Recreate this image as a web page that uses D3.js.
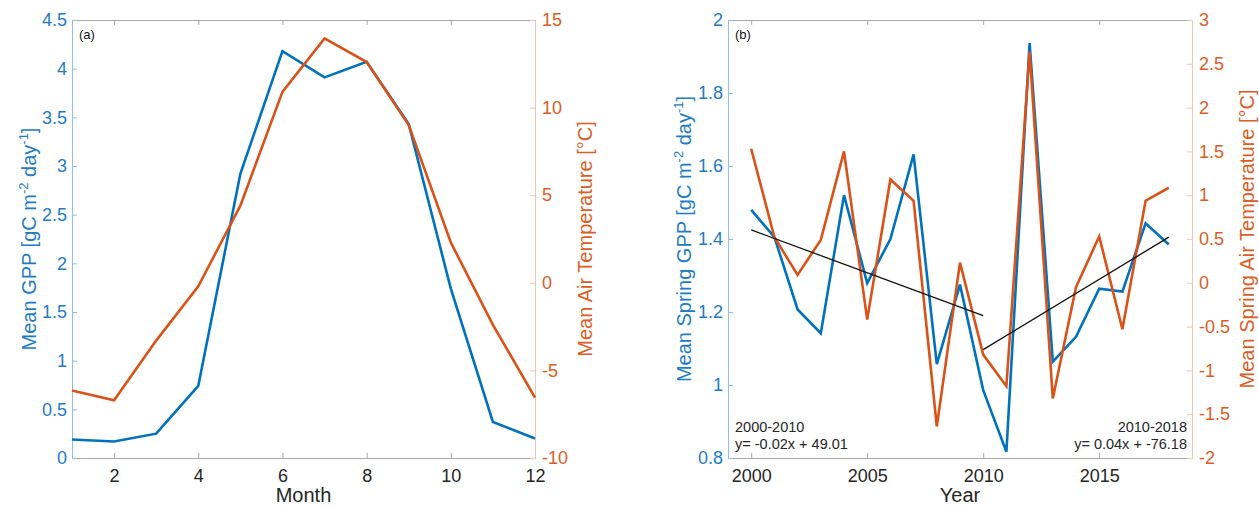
<!DOCTYPE html>
<html>
<head>
<meta charset="utf-8">
<script src="https://cdn.jsdelivr.net/npm/d3@7"></script>
<style>
  body { margin: 0; background: #fff; }
  text { font-family: "Liberation Sans", Arial, Helvetica, sans-serif; }
</style>
</head>
<body>
<div id="canvas"></div>
<script>
// panel (a): monthly means
const months = [1, 2, 3, 4, 5, 6, 7, 8, 9, 10, 11, 12];
const gppMonthly = [0.19, 0.17, 0.25, 0.74, 2.92, 4.18, 3.91, 4.07, 3.43, 1.74, 0.37, 0.20];
const tempMonthly = [-6.15, -6.7, -3.3, -0.2, 4.4, 10.9, 13.95, 12.6, 9.0, 2.3, -2.4, -6.55];

// panel (b): spring means by year
const years = [2000, 2001, 2002, 2003, 2004, 2005, 2006, 2007, 2008, 2009,
               2010, 2011, 2012, 2013, 2014, 2015, 2016, 2017, 2018];
const gppSpring = [1.48, 1.405, 1.207, 1.142, 1.52, 1.279, 1.40, 1.632, 1.057, 1.275,
                   0.986, 0.817, 1.937, 1.064, 1.132, 1.264, 1.256, 1.443, 1.385];
const tempSpring = [1.53, 0.52, 0.09, 0.49, 1.50, -0.42, 1.18, 0.935, -1.64, 0.23,
                    -0.82, -1.18, 2.64, -1.32, -0.05, 0.53, -0.53, 0.937, 1.085];

// trend lines (endpoints, left axis units)
const trend1 = [[2000, 1.425], [2010, 1.19]];
const trend2 = [[2010, 1.097], [2018, 1.405]];
const trendText1 = ["2000-2010", "y= -0.02x + 49.01"];
const trendText2 = ["2010-2018", "y= 0.04x + -76.18"];

// ticks
const monthTicks = [2, 4, 6, 8, 10, 12];
const gppTicksA = [0, 0.5, 1, 1.5, 2, 2.5, 3, 3.5, 4, 4.5];
const tempTicksA = [-10, -5, 0, 5, 10, 15];
const yearTicks = [2000, 2005, 2010, 2015];
const gppTicksB = [0.8, 1, 1.2, 1.4, 1.6, 1.8, 2];
const tempTicksB = [-2, -1.5, -1, -0.5, 0, 0.5, 1, 1.5, 2, 2.5, 3];

const blue = "#0072BD";
const orange = "#D95319";
const blueText = "#1f7cc3";
const orangeText = "#d85e27";

const svg = d3.select("#canvas").append("svg")
    .attr("width", 1259)
    .attr("height", 508);

function drawPanel(p) {
    const x = d3.scaleLinear().domain(p.xDomain).range([p.left, p.right]);
    const yL = d3.scaleLinear().domain(p.yLDomain).range([p.bottom, p.top]);
    const yR = d3.scaleLinear().domain(p.yRDomain).range([p.bottom, p.top]);

    const g = svg.append("g");

    // axes (ticks point inward)
    const bottomAxis = g.append("g")
        .attr("transform", `translate(0,${p.bottom})`)
        .call(d3.axisBottom(x).tickValues(p.xTicks).tickSize(-5).tickSizeOuter(0).tickPadding(11)
            .tickFormat(d => String(d)));
    const topAxis = g.append("g")
        .attr("transform", `translate(0,${p.top})`)
        .call(d3.axisTop(x).tickValues(p.xTicks).tickSize(-5).tickSizeOuter(0).tickFormat(""));
    [bottomAxis, topAxis].forEach(a => {
        a.select(".domain").attr("stroke", "#a8a8a8");
        a.selectAll(".tick line").attr("stroke", "#a8a8a8");
        a.selectAll("text").attr("fill", "#262626").attr("font-size", 18)
            .attr("font-family", "Liberation Sans, Arial, sans-serif");
    });

    const leftAxis = g.append("g")
        .attr("transform", `translate(${p.left},0)`)
        .call(d3.axisLeft(yL).tickValues(p.yLTicks).tickSize(-5).tickSizeOuter(0).tickPadding(5)
            .tickFormat(d => String(d)));
    leftAxis.select(".domain").attr("stroke", "#8fbfe4");
    leftAxis.selectAll(".tick line").attr("stroke", "#8fbfe4");
    leftAxis.selectAll("text").attr("fill", blueText).attr("font-size", 18)
        .attr("font-family", "Liberation Sans, Arial, sans-serif");

    const rightAxis = g.append("g")
        .attr("transform", `translate(${p.right},0)`)
        .call(d3.axisRight(yR).tickValues(p.yRTicks).tickSize(-5).tickSizeOuter(0).tickPadding(7)
            .tickFormat(d => String(d)));
    rightAxis.select(".domain").attr("stroke", "#ebc7b6");
    rightAxis.selectAll(".tick line").attr("stroke", "#ebc7b6");
    rightAxis.selectAll("text").attr("fill", orangeText).attr("font-size", 18)
        .attr("font-family", "Liberation Sans, Arial, sans-serif");

    // data lines
    const lineL = d3.line().x((d, i) => x(p.xs[i])).y(d => yL(d));
    const lineR = d3.line().x((d, i) => x(p.xs[i])).y(d => yR(d));
    g.append("path").datum(p.left_vals)
        .attr("fill", "none").attr("stroke", blue).attr("stroke-width", 2.6)
        .attr("stroke-linejoin", "miter").attr("d", lineL);
    g.append("path").datum(p.right_vals)
        .attr("fill", "none").attr("stroke", orange).attr("stroke-width", 2.6)
        .attr("stroke-linejoin", "miter").attr("d", lineR);

    // trend lines
    (p.trends || []).forEach(t => {
        g.append("path").datum(t)
            .attr("fill", "none").attr("stroke", "#111").attr("stroke-width", 1.3)
            .attr("d", d3.line().x(d => x(d[0])).y(d => yL(d[1])));
    });

    // panel letter
    g.append("text").attr("x", p.left + 7).attr("y", p.top + 19)
        .attr("font-size", 13).attr("fill", "#111").text(p.letter);

    // axis titles
    g.append("text")
        .attr("x", (p.left + p.right) / 2).attr("y", 502)
        .attr("text-anchor", "middle").attr("font-size", 20).attr("fill", "#262626")
        .text(p.xLabel);

    const ylab = g.append("text")
        .attr("transform", `translate(${p.yLabelX},${(p.top + p.bottom) / 2}) rotate(-90)`)
        .attr("text-anchor", "middle").attr("font-size", 20).attr("fill", blueText);
    ylab.append("tspan").text(p.yLLabel + " [gC m");
    ylab.append("tspan").attr("dy", -8).attr("font-size", 13).text("-2");
    ylab.append("tspan").attr("dy", 8).text(" day");
    ylab.append("tspan").attr("dy", -8).attr("font-size", 13).text("-1");
    ylab.append("tspan").attr("dy", 8).text("]");

    g.append("text")
        .attr("transform", `translate(${p.yRLabelX},${(p.top + p.bottom) / 2}) rotate(-90)`)
        .attr("text-anchor", "middle").attr("font-size", 20).attr("fill", orangeText)
        .text(p.yRLabel);

    return g;
}

const gA = drawPanel({
    left: 72, right: 535, top: 20, bottom: 458,
    xDomain: [1, 12], yLDomain: [0, 4.5], yRDomain: [-10, 15],
    xTicks: monthTicks, yLTicks: gppTicksA, yRTicks: tempTicksA,
    xs: months, left_vals: gppMonthly, right_vals: tempMonthly,
    letter: "(a)", xLabel: "Month",
    yLLabel: "Mean GPP", yLabelX: 36,
    yRLabel: "Mean Air Temperature [°C]", yRLabelX: 592
});

const gB = drawPanel({
    left: 728, right: 1192, top: 20, bottom: 458,
    xDomain: [1999, 2019], yLDomain: [0.8, 2], yRDomain: [-2, 3],
    xTicks: yearTicks, yLTicks: gppTicksB, yRTicks: tempTicksB,
    xs: years, left_vals: gppSpring, right_vals: tempSpring,
    trends: [trend1, trend2],
    letter: "(b)", xLabel: "Year",
    yLLabel: "Mean Spring GPP", yLabelX: 691,
    yRLabel: "Mean Spring Air Temperature [°C]", yRLabelX: 1254
});

// trend annotations
gB.append("text").attr("x", 735).attr("y", 432).attr("font-size", 14.5).attr("fill", "#262626")
    .text(trendText1[0]);
gB.append("text").attr("x", 735).attr("y", 449).attr("font-size", 14.5).attr("fill", "#262626")
    .text(trendText1[1]);
gB.append("text").attr("x", 1187).attr("y", 432).attr("font-size", 14.5).attr("fill", "#262626")
    .attr("text-anchor", "end").text(trendText2[0]);
gB.append("text").attr("x", 1187).attr("y", 449).attr("font-size", 14.5).attr("fill", "#262626")
    .attr("text-anchor", "end").text(trendText2[1]);
</script>
</body>
</html>
